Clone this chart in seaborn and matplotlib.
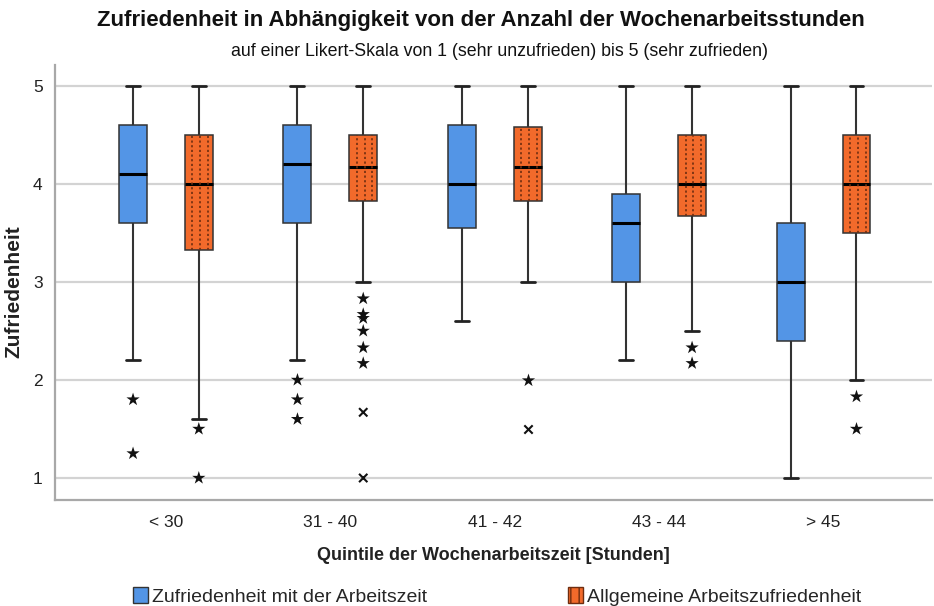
import numpy as np
import pandas as pd
import matplotlib
matplotlib.use("Agg")
import matplotlib.pyplot as plt
import seaborn as sns
from matplotlib.patches import Patch

# ---- data (five-number summaries) ----
groups = ["< 30", "31 - 40", "41 - 42", "43 - 44", "> 45"]
series = ["Zufriedenheit mit der Arbeitszeit", "Allgemeine Arbeitszufriedenheit"]

zeit_lo = [2.2, 2.2, 2.6, 2.2, 1.0]
zeit_q1 = [3.6, 3.6, 3.55, 3.0, 2.4]
zeit_med = [4.1, 4.2, 4.0, 3.6, 3.0]
zeit_q3 = [4.6, 4.6, 4.6, 3.9, 3.6]
zeit_hi = [5.0, 5.0, 5.0, 5.0, 5.0]

allg_lo = [1.6, 3.0, 3.0, 2.5, 2.0]
allg_q1 = [3.33, 3.83, 3.83, 3.67, 3.5]
allg_med = [4.0, 4.17, 4.17, 4.0, 4.0]
allg_q3 = [4.5, 4.5, 4.58, 4.5, 4.5]
allg_hi = [5.0, 5.0, 5.0, 5.0, 5.0]

# outliers: (group, series index, value)
star_groups = ["< 30", "< 30", "31 - 40", "31 - 40", "31 - 40",
               "< 30", "< 30",
               "31 - 40", "31 - 40", "31 - 40", "31 - 40", "31 - 40", "31 - 40",
               "41 - 42", "43 - 44", "43 - 44", "> 45", "> 45"]
star_series = [0, 0, 0, 0, 0,
               1, 1,
               1, 1, 1, 1, 1, 1,
               1, 1, 1, 1, 1]
star_values = [1.8, 1.25, 2.0, 1.8, 1.6,
               1.5, 1.0,
               2.83, 2.67, 2.63, 2.5, 2.33, 2.17,
               2.0, 2.33, 2.17, 1.83, 1.5]

cross_groups = ["31 - 40", "31 - 40", "41 - 42"]
cross_series = [1, 1, 1]
cross_values = [1.67, 1.0, 1.5]

# ---- build long tables ----
rows = []
for i, g in enumerate(groups):
    for v in (zeit_lo[i], zeit_q1[i], zeit_med[i], zeit_q3[i], zeit_hi[i]):
        rows.append((g, series[0], v))
    for v in (allg_lo[i], allg_q1[i], allg_med[i], allg_q3[i], allg_hi[i]):
        rows.append((g, series[1], v))
df = pd.DataFrame(rows, columns=["Gruppe", "Reihe", "Wert"])

df_star = pd.DataFrame({"Gruppe": star_groups,
                        "Reihe": [series[s] for s in star_series],
                        "Wert": star_values})
df_cross = pd.DataFrame({"Gruppe": cross_groups,
                         "Reihe": [series[s] for s in cross_series],
                         "Wert": cross_values})

BLUE = "#5395E6"
ORANGE = "#F26A2B"
DOTS = "#6e2d10"
palette = {series[0]: BLUE, series[1]: ORANGE}

sns.set_theme(style="white")
plt.rcParams["font.family"] = ["Liberation Sans", "DejaVu Sans"]
plt.rcParams["hatch.linewidth"] = 1.0

fig = plt.figure(figsize=(9.34, 6.06), dpi=100)
ax = fig.add_axes([0.059, 0.175, 0.939, 0.718])

sns.boxplot(data=df, x="Gruppe", y="Wert", hue="Reihe", order=groups,
            hue_order=series, palette=palette, whis=(0, 100), showfliers=False,
            width=0.8, gap=0.575, linecolor="#333333", linewidth=1.1,
            saturation=1, legend=False, ax=ax,
            medianprops=dict(color="black", linewidth=2.2),
            whiskerprops=dict(color="#333333", linewidth=1.5),
            capprops=dict(color="#222222", linewidth=2.0))

# dotted vertical pattern inside the orange boxes
for p in list(ax.patches):
    fc = matplotlib.colors.to_hex(p.get_facecolor())
    if fc.lower() == ORANGE.lower():
        ext = p.get_path().get_extents()
        xs = [ext.x0 + f * ext.width for f in (0.27, 0.55, 0.83)]
        ax.vlines(xs, ext.y0, ext.y1, colors=DOTS, linewidth=1.2,
                  linestyles=(0, (1.3, 1.5)), zorder=p.get_zorder() + 0.1)

sns.stripplot(data=df_star, x="Gruppe", y="Wert", hue="Reihe", order=groups,
              hue_order=series, dodge=True, jitter=False, marker="*", s=10,
              palette={series[0]: "#111111", series[1]: "#111111"},
              linewidth=0, legend=False, ax=ax, native_scale=False)
sns.stripplot(data=df_cross, x="Gruppe", y="Wert", hue="Reihe", order=groups,
              hue_order=series, dodge=True, jitter=False, marker="x", s=6,
              palette={series[0]: "#111111", series[1]: "#111111"},
              linewidth=1.5, legend=False, ax=ax, native_scale=False)

ax.set_xlim(-0.674, 4.66)
ax.set_ylim(0.776, 5.214)
ax.set_yticks([1, 2, 3, 4, 5])
ax.yaxis.grid(True, color="#d3d3d3", linewidth=1.6)
ax.set_axisbelow(True)
for s in ["top", "right"]:
    ax.spines[s].set_visible(False)
for s in ["left", "bottom"]:
    ax.spines[s].set_color("#a8a8a8")
    ax.spines[s].set_linewidth(1.6)
ax.tick_params(axis="both", length=0, labelsize=12.5, colors="#222222")
ax.tick_params(axis="x", pad=11)
ax.tick_params(axis="y", pad=9)

ax.set_xlabel("Quintile der Wochenarbeitszeit [Stunden]", fontsize=13,
              fontweight="bold", labelpad=12, color="#222222")
ax.set_ylabel("Zufriedenheit", fontsize=15, fontweight="bold", color="#222222")
ax.yaxis.set_label_coords(-0.0365, 0.478)

fig.text(0.515, 0.966, "Zufriedenheit in Abhängigkeit von der Anzahl der Wochenarbeitsstunden",
         ha="center", va="center", fontsize=16, fontweight="bold", color="#111111")
fig.text(0.535, 0.915, "auf einer Likert-Skala von 1 (sehr unzufrieden) bis 5 (sehr zufrieden)",
         ha="center", va="center", fontsize=12.8, color="#111111")

handles = [Patch(facecolor=BLUE, edgecolor="#333333", linewidth=1.0),
           Patch(facecolor=ORANGE, edgecolor="#6e2d10", hatch="||", linewidth=1.0)]
fig.legend(handles, series, loc="center left", bbox_to_anchor=(0.142, 0.016),
           ncol=2, frameon=False, fontsize=14, handlelength=0.78,
           handleheight=0.9, handletextpad=0.2, columnspacing=7.25,
           borderpad=0, borderaxespad=0)

fig.savefig("out.png", dpi=100)
